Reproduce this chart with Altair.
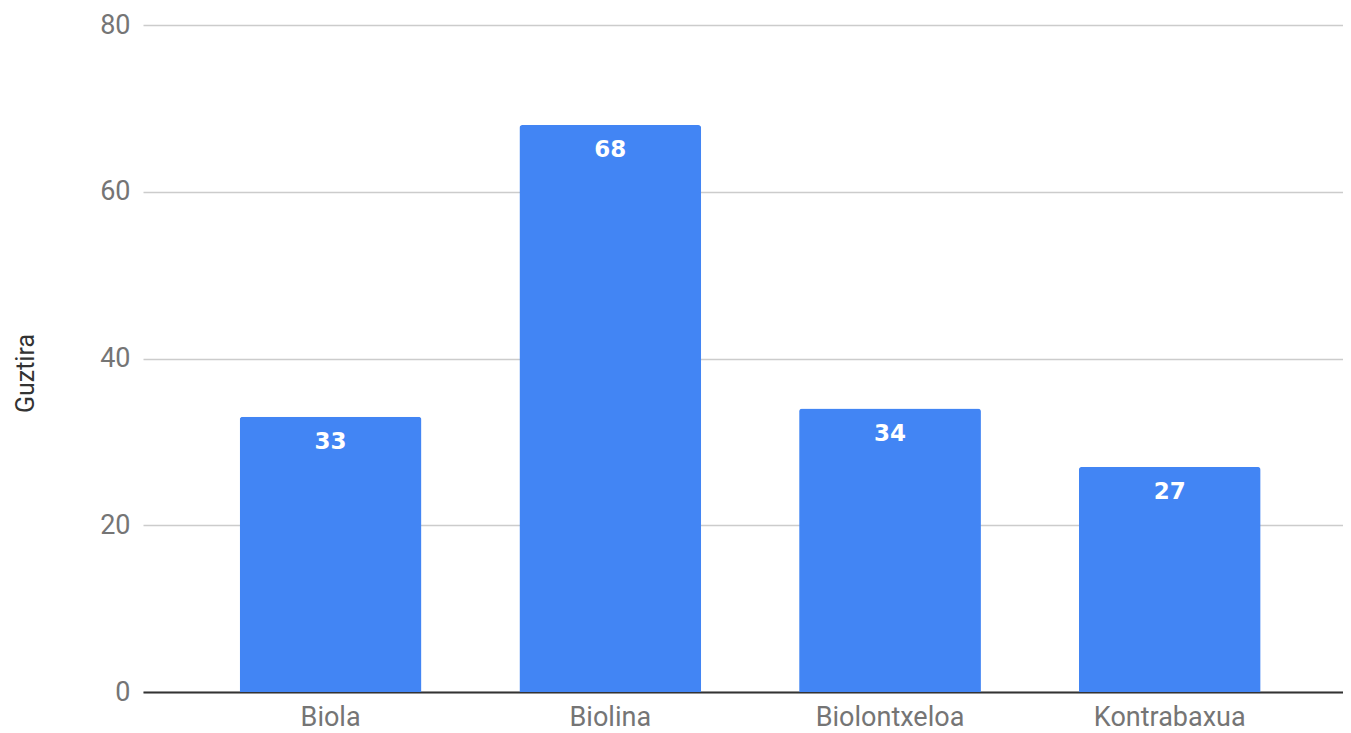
import altair as alt
import pandas as pd

categories = ["Biola", "Biolina", "Biolontxeloa", "Kontrabaxua"]
values = [33, 68, 34, 27]
y_ticks = [0, 20, 40, 60, 80]

df = pd.DataFrame({"cat": categories, "val": values})

x = alt.X(
    "cat:N",
    sort=categories,
    title=None,
    scale=alt.Scale(paddingInner=0.35, paddingOuter=0.32, align=0.54),
    axis=alt.Axis(
        labelAngle=0,
        labelFont="Roboto",
        labelFontSize=27,
        labelColor="#757575",
        labelPadding=12,
        ticks=False,
        domain=True,
        domainColor="#333333",
        domainWidth=2,
        grid=False,
    ),
)
y = alt.Y(
    "val:Q",
    title="Guztira",
    scale=alt.Scale(domain=[0, 80], nice=False, zero=True),
    axis=alt.Axis(
        values=y_ticks,
        labelFont="Roboto",
        labelFontSize=27,
        labelColor="#757575",
        labelPadding=13,
        ticks=False,
        domain=False,
        grid=True,
        gridColor="#cccccc",
        gridWidth=1.5,
        titleFont="Roboto",
        titleFontSize=25,
        titleFontWeight="normal",
        titleColor="#333333",
        titleAngle=-90,
        titleX=-118,
        titleY=348,
        titleAlign="center",
        titleBaseline="middle",
    ),
)

bars = alt.Chart(df).mark_bar(
    color="#4285F4", cornerRadiusTopLeft=3, cornerRadiusTopRight=3
).encode(x=x, y=y)

labels = alt.Chart(df).mark_text(
    color="white",
    font="DejaVu Sans",
    fontWeight="bold",
    fontSize=23,
    baseline="middle",
    dy=25,
).encode(x=alt.X("cat:N", sort=categories), y=alt.Y("val:Q"), text=alt.Text("val:Q"))

chart = (
    alt.layer(bars, labels)
    .properties(
        width=1200,
        height=667,
        autosize=alt.AutoSizeParams(type="none"),
        padding={"left": 135, "top": 17, "right": 0, "bottom": 40},
    )
    .configure_view(stroke=None)
)

chart.save("out.html", embed_options={"renderer": "svg", "actions": False})
